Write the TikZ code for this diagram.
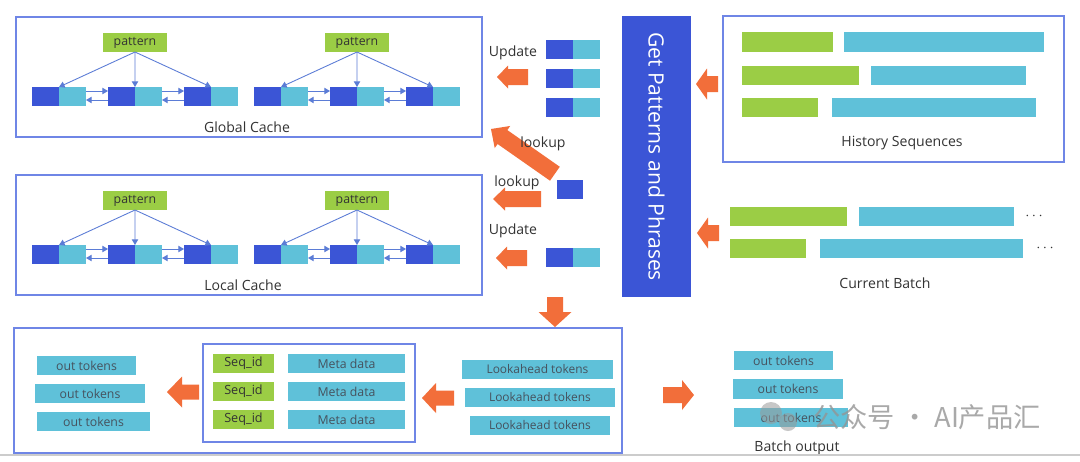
\documentclass[tikz,border=0pt]{standalone}
\usepackage{fontspec}
\setmainfont{Open Sans}
\newfontfamily\cjk{Noto Sans CJK SC}
\usetikzlibrary{arrows.meta}
\definecolor{dkb}{HTML}{3B55D6}
\definecolor{ltb}{HTML}{5FC1D9}
\definecolor{grn}{HTML}{9BCD45}
\definecolor{org}{HTML}{F26E3A}
\definecolor{frm}{HTML}{6F86E6}
\definecolor{cnn}{HTML}{5B7CD6}
\definecolor{txt}{HTML}{333333}
\definecolor{btx}{HTML}{46525E}
\newcommand\myfs[1]{\fontsize{#1}{#1}\selectfont}
\tikzset{
  sz/.style 2 args={minimum width=#1*0.02cm, minimum height=#2*0.02cm},
  blk/.style={inner sep=0pt, outer sep=0pt},
  dk/.style={blk, fill=dkb},
  lt/.style={blk, fill=ltb},
  gr/.style={blk, fill=grn},
  frame/.style={blk, draw=frm, line width=0.8pt},
  pat/.style={blk, fill=grn, sz={64}{19}, text=txt, font=\myfs{7}},
  tok/.style={blk, fill=ltb, text=btx, font=\myfs{7}},
  seq/.style={blk, fill=grn, text=txt, font=\myfs{7.2}},
  lbl/.style={text=txt, font=\myfs{8}, inner sep=0pt},
  conn/.style={draw=cnn, line width=0.5pt, -{Triangle[length=3.2pt,width=3.6pt]}},
  arrowfill/.style={fill=org},
  pics/barrow/.style n args={4}{code={
    \fill[arrowfill] (0,0) -- (#2,{-#4/2}) -- (#2,{-#3/2}) -- (#1,{-#3/2})
      -- (#1,{#3/2}) -- (#2,{#3/2}) -- (#2,{#4/2}) -- cycle;
  }},
  pics/chain/.style={code={
    \node[pat] (-p) at (103,-44.5) {pattern};
    \foreach \i in {0,1,2}{
      \node[dk, sz={27}{19}] (-d\i) at ({13.5+76*\i},9.5) {};
      \node[lt, sz={27}{19}] (-l\i) at ({40.5+76*\i},9.5) {};
      \draw[conn] (-p.south) -- (-d\i.north east);
    }
    \foreach \i/\j in {0/1,1/2}{
      \draw[conn] ([yshift=0.11cm]-l\i.east) -- ([yshift=0.11cm]-d\j.west);
      \draw[conn] ([yshift=-0.07cm]-d\j.west) -- ([yshift=-0.07cm]-l\i.east);
    }
  }}
}
\begin{document}
\begin{tikzpicture}[x=0.02cm,y=-0.02cm]
\useasboundingbox[fill=white] (0,0) rectangle (1080,461);

% ---------- caches ----------
\node[frame, sz={466}{120}] (gframe) at (249,77) {};
\pic (g1) at (32,87) {chain};
\pic (g2) at (254,87) {chain};
\node[lbl] (glabel) at (247,127) {Global Cache};

\node[frame, sz={466}{120}] (lframe) at (249,235) {};
\pic (l1) at (32,245) {chain};
\pic (l2) at (254,245) {chain};
\node[lbl] (llabel) at (243,285) {Local Cache};

% ---------- middle column ----------
\node[lbl] (upd1) at (513,53) {Update};
\pic (a1) at (497,77) {barrow={31}{11}{16}{23}};
\foreach \r/\y in {1/49,2/78.5,3/107.5}{
  \node[dk, sz={27}{19}] (ud\r) at (559.5,\y) {};
  \node[lt, sz={27}{19}] (ul\r) at (586.5,\y) {};
}
\pic[rotate=-35] (a2) at (491,129) {barrow={78}{14}{17}{27}};
\node[lbl] (lk1) at (543,144) {lookup};
\node[lbl] (lk2) at (517,183) {lookup};
\pic (a3) at (493,199) {barrow={48}{12}{16}{23}};
\node[dk, sz={26}{19}] (lone) at (570,189.5) {};
\node[lbl] (upd2) at (513,231) {Update};
\pic (a4) at (496,258) {barrow={31}{11}{16}{23}};
\node[dk, sz={27}{19}] (pd) at (559.5,257.5) {};
\node[lt, sz={27}{19}] (pl) at (586.5,257.5) {};
\pic[rotate=90] (a5) at (555,327) {barrow={30}{15}{16}{33}};

% ---------- get patterns ----------
\node[blk, fill=dkb, rotate=-90, sz={281}{69}, text=white, font=\myfs{12}] (gp) at (656.5,156.5) {Get Patterns and Phrases};
\pic (a6) at (696,84) {barrow={22}{11}{16}{31}};
\pic (a7) at (697,233) {barrow={22}{11}{16}{31}};

% ---------- history ----------
\node[frame, sz={341}{146}] (hframe) at (893.5,89) {};
\node[gr, sz={91}{20}]  (h1g) at (787.5,42) {};
\node[lt, sz={200}{20}] (h1b) at (944,42) {};
\node[gr, sz={117}{19}] (h2g) at (800.5,75) {};
\node[lt, sz={155}{19}] (h2b) at (948.5,75) {};
\node[gr, sz={76}{19}]  (h3g) at (780,107.5) {};
\node[lt, sz={204}{19}] (h3b) at (934,107.5) {};
\node[lbl] (hlabel) at (902,143) {History Sequences};

% ---------- current batch ----------
\node[gr, sz={117}{19}] (c1g) at (788.5,216.5) {};
\node[lt, sz={155}{19}] (c1b) at (936.5,216.5) {};
\node[lbl] (c1d) at (1034,216.5) {$\cdots$};
\node[gr, sz={76}{19}]  (c2g) at (768,248.5) {};
\node[lt, sz={203}{19}] (c2b) at (921.5,248.5) {};
\node[lbl] (c2d) at (1045,248.5) {$\cdots$};
\node[lbl] (clabel) at (885,283) {Current Batch};

% ---------- bottom ----------
\node[frame, sz={608}{125}] (bframe) at (318,390.5) {};
\node[tok, sz={99}{19}]  (o1) at (86.5,365.5) {out tokens};
\node[tok, sz={110}{19}] (o2) at (90,393.5) {out tokens};
\node[tok, sz={113}{19}] (o3) at (93.5,421.5) {out tokens};
\pic (a8) at (167,392) {barrow={32}{15}{15}{31}};
\node[frame, sz={212}{98}] (iframe) at (309,393) {};
\foreach \r/\y in {1/363.5,2/391.5,3/419.5}{
  \node[seq, sz={61}{19}] (s\r) at (243.5,\y) {Seq\_id};
  \node[tok, sz={117}{19}] (m\r) at (346.5,\y) {Meta data};
}
\pic (a9) at (422,398) {barrow={32}{14}{15}{30}};
\node[tok, sz={151}{19}, font=\myfs{6.8}] (la1) at (537.5,369.5) {Lookahead tokens};
\node[tok, sz={150}{19}, font=\myfs{6.8}] (la2) at (540,397.5) {Lookahead tokens};
\node[tok, sz={140}{19}, font=\myfs{6.8}] (la3) at (540,425.5) {Lookahead tokens};

\pic[rotate=180] (a10) at (694,395) {barrow={31}{12}{16}{30}};
\node[tok, sz={99}{19}]  (r1) at (783.5,360.5) {out tokens};
\node[tok, sz={110}{20}] (r2) at (788,389) {out tokens};
\node[tok, sz={114}{19}] (r3) at (791,417.5) {out tokens};
\node[lbl] (blabel) at (797,448) {Batch output};

% ---------- page line and watermark ----------
\draw[black!20, line width=0.6pt] (0,455) -- (1080,455);
\fill[black!40, opacity=0.55] (771,413) circle[radius=11];
\fill[black!40, opacity=0.55] (788,422) circle[radius=9];
\node[text=black!42, text opacity=0.8, font=\cjk\myfs{15.5}, inner sep=0pt] (wm) at (927,417) {公众号 · AI产品汇};
\end{tikzpicture}
\end{document}
